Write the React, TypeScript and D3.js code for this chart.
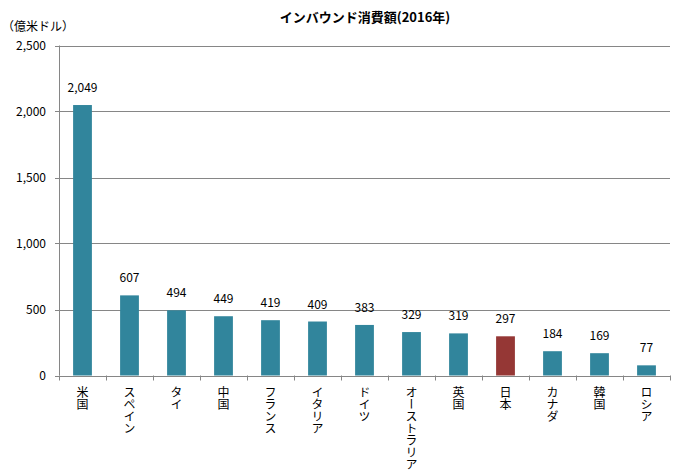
import React from "react";
import * as d3 from "d3";

const categories = ["米国", "スペイン", "タイ", "中国", "フランス", "イタリア", "ドイツ", "オーストラリア", "英国", "日本", "カナダ", "韓国", "ロシア"];
const values = [2049, 607, 494, 449, 419, 409, 383, 329, 319, 297, 184, 169, 77];
const yTicks = [0, 500, 1000, 1500, 2000, 2500];
const highlight = "日本";

const W = 685, H = 475;
const left = 59, right = 670, top = 45.5, bottom = 375.5;
const FONT = "'Noto Sans CJK JP', 'Noto Sans', sans-serif";

export default function App() {
  const x = d3.scaleBand<string>().domain(categories).range([left, right]).paddingInner(0.6).paddingOuter(0.3);
  const band = d3.scaleBand<string>().domain(categories).range([left, right]);
  const y = d3.scaleLinear().domain([0, 2500]).range([bottom, top]);
  const fmt = d3.format(",");
  return (
    <svg width={W} height={H} style={{ position: "absolute", left: 0, top: 0, background: "#fff" }} fontFamily={FONT}>
      <text x={365} y={22} textAnchor="middle" fontSize={13} fontWeight="bold" fill="#000">インバウンド消費額(2016年)</text>
      <text x={2} y={31} fontSize={12} fill="#000">（億米ドル）</text>
      {yTicks.map((t) => (
        <g key={t}>
          <line x1={left - 4} x2={right} y1={Math.round(y(t)) + 0.5} y2={Math.round(y(t)) + 0.5} stroke="#868686" strokeWidth={1} />
          <text x={46} y={y(t) + 4} textAnchor="end" fontSize={12} fill="#000">{fmt(t)}</text>
        </g>
      ))}
      <line x1={left + 0.5} x2={left + 0.5} y1={top} y2={bottom} stroke="#868686" />
      {categories.map((c, i) => (
        <line key={"t" + i} x1={Math.round(band(c)!) + 0.5} x2={Math.round(band(c)!) + 0.5} y1={bottom} y2={bottom + 5} stroke="#868686" />
      ))}
      <line x1={right + 0.5} x2={right + 0.5} y1={bottom} y2={bottom + 5} stroke="#868686" />
      {categories.map((c, i) => (
        <g key={c}>
          <rect x={x(c)} y={y(values[i])} width={x.bandwidth()} height={bottom - y(values[i])} fill={c === highlight ? "#953735" : "#31859C"} />
          <text x={x(c)! + x.bandwidth() / 2} y={y(values[i]) - 13} textAnchor="middle" fontSize={12} fill="#000">{fmt(values[i])}</text>
          <text x={band(c)! + band.bandwidth() / 2} y={386} fontSize={12} fill="#000" style={{ writingMode: "vertical-rl", textOrientation: "upright" } as any}>{c}</text>
        </g>
      ))}
    </svg>
  );
}
